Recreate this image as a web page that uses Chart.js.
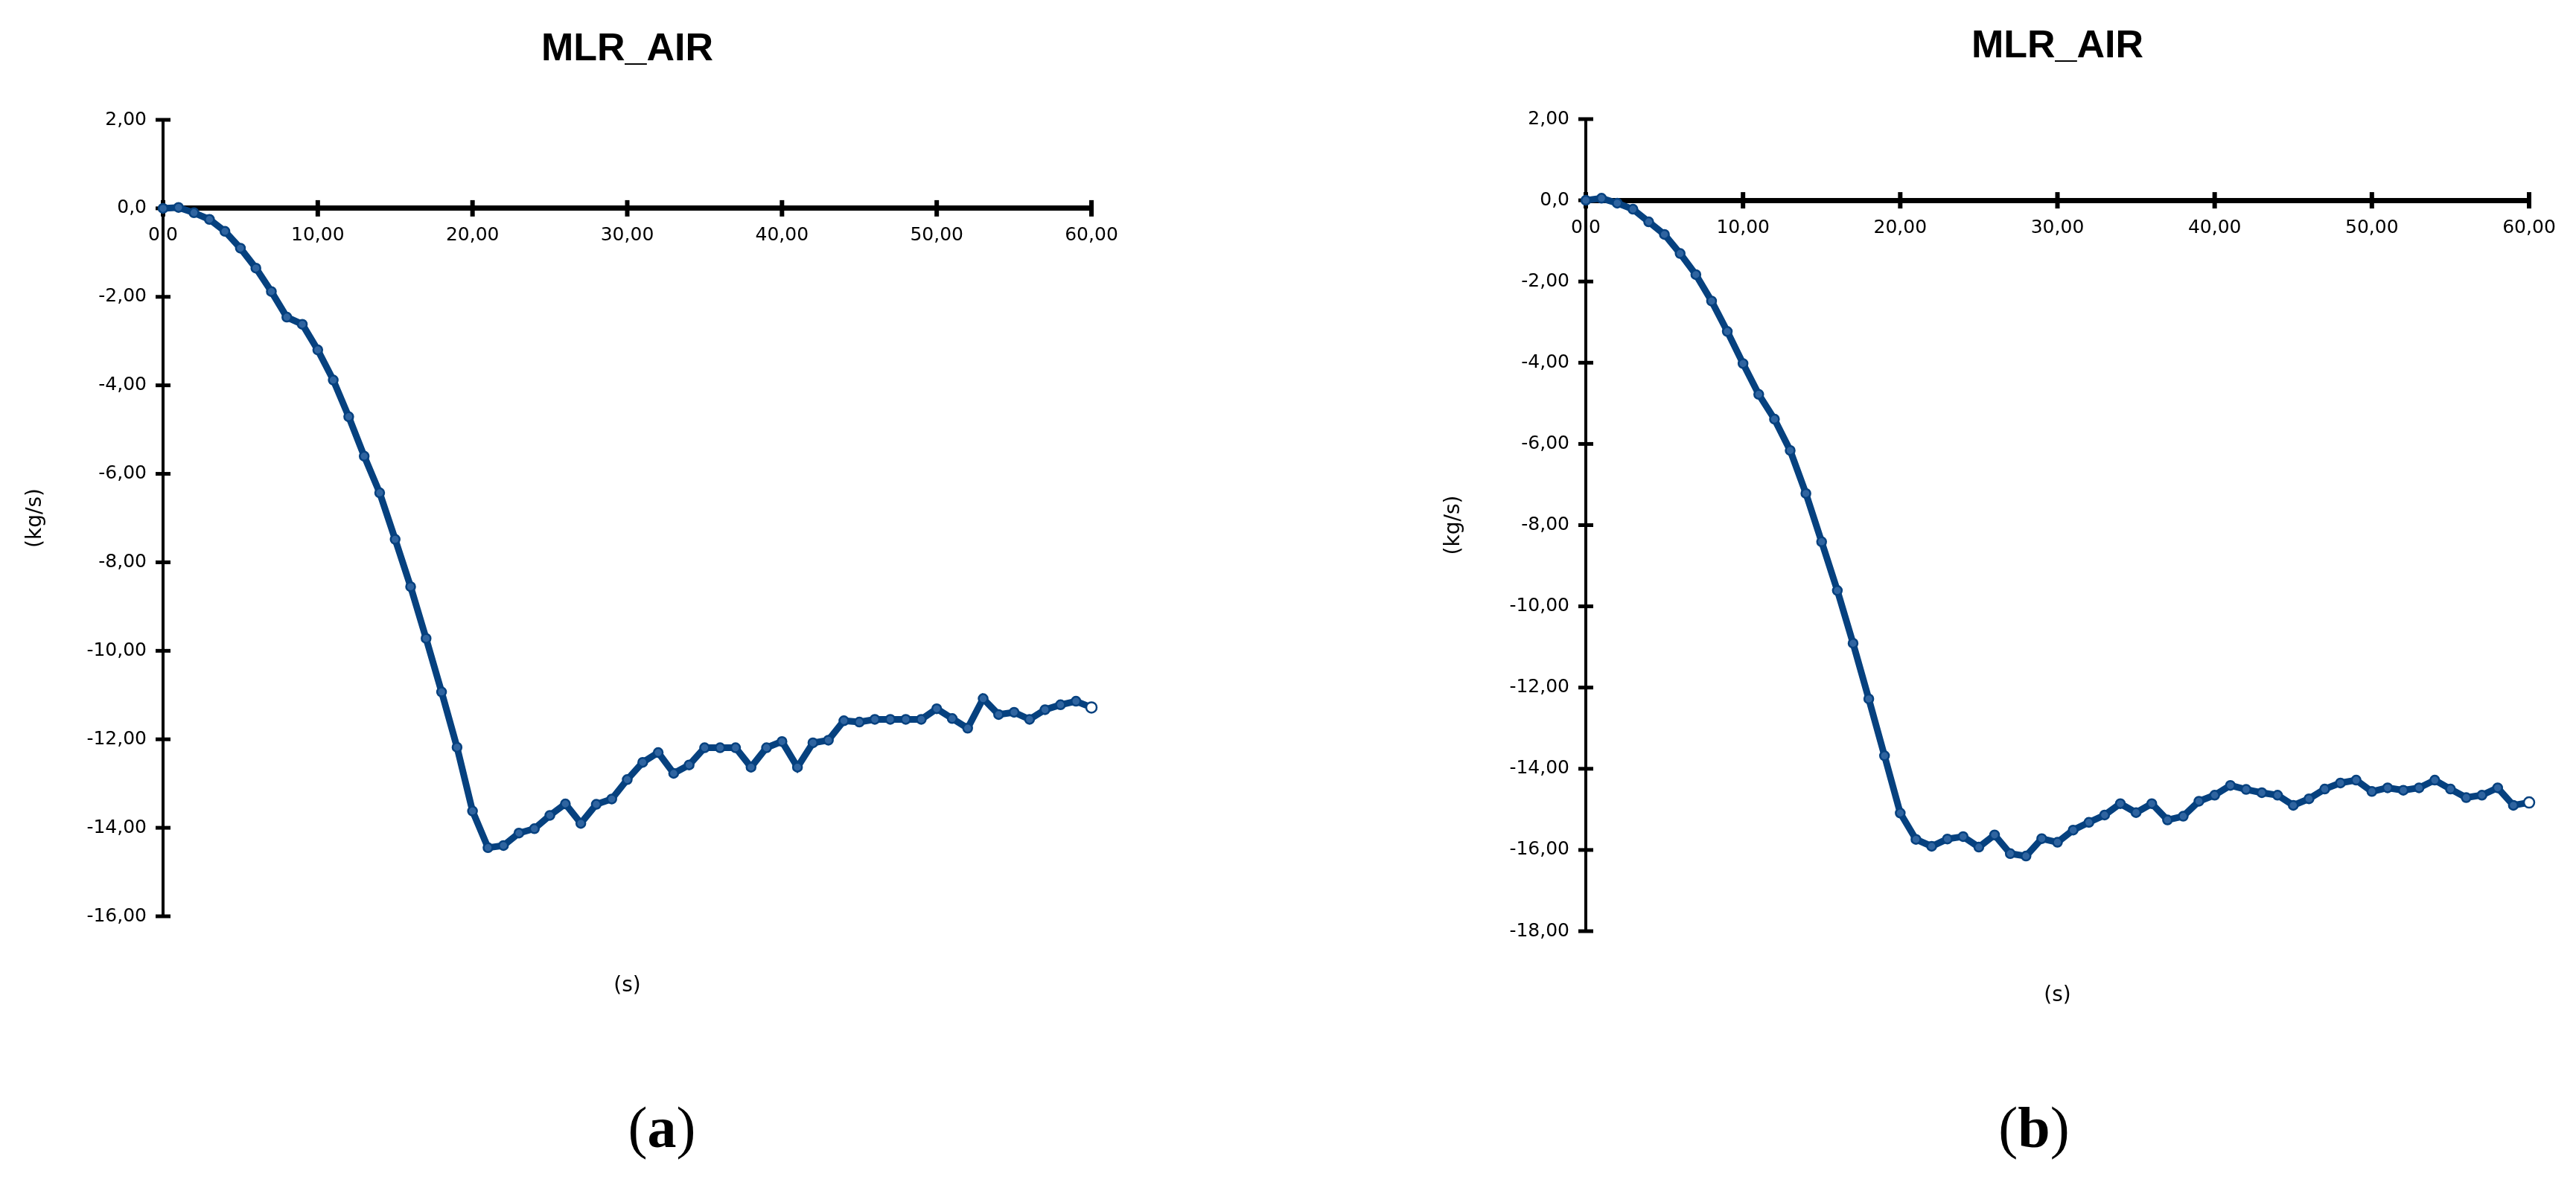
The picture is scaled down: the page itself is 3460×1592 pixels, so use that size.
<!DOCTYPE html>
<html>
<head>
<meta charset="utf-8">
<title>MLR_AIR</title>
<script src="https://cdn.jsdelivr.net/npm/chart.js@4.4.1/dist/chart.umd.min.js"></script>
<style>
  html, body { margin: 0; padding: 0; background: #fff; }
  #page { position: relative; width: 3460px; height: 1592px; overflow: hidden; background: #fff; }
  canvas { position: absolute; top: 0; }
  #chartA { left: 0; }
  #chartB { left: 1880px; }
  .panel { position: absolute; top: 1476px; width: 200px; text-align: center; color: #000;
           font-family: "Liberation Serif", serif; font-size: 78px; line-height: 78px; }
</style>
</head>
<body>
<div id="page">
  <canvas id="chartA" width="1526" height="1400"></canvas>
  <canvas id="chartB" width="1577" height="1420"></canvas>
  <div class="panel" style="left: 789px;">(<b>a</b>)</div>
  <div class="panel" style="left: 2632px;">(<b>b</b>)</div>
</div>
<script>
// time (s)
const seconds = [0, 1, 2, 3, 4, 5, 6, 7, 8, 9, 10, 11, 12, 13, 14, 15, 16, 17, 18, 19, 20,
  21, 22, 23, 24, 25, 26, 27, 28, 29, 30, 31, 32, 33, 34, 35, 36, 37, 38, 39, 40,
  41, 42, 43, 44, 45, 46, 47, 48, 49, 50, 51, 52, 53, 54, 55, 56, 57, 58, 59, 60];

// MLR_AIR (kg/s), panel a
const mlrAirA = [0.00, 0.02, -0.10, -0.25, -0.52, -0.90, -1.35, -1.88, -2.46, -2.62, -3.20,
  -3.88, -4.71, -5.60, -6.43, -7.48, -8.55, -9.72, -10.93, -12.18, -13.62,
  -14.45, -14.40, -14.12, -14.02, -13.72, -13.46, -13.90, -13.47, -13.35, -12.91,
  -12.52, -12.30, -12.77, -12.58, -12.19, -12.19, -12.19, -12.63, -12.19, -12.05,
  -12.63, -12.08, -12.02, -11.58, -11.61, -11.55, -11.55, -11.55, -11.55, -11.31,
  -11.53, -11.75, -11.08, -11.44, -11.39, -11.55, -11.33, -11.22, -11.14, -11.28];

// MLR_AIR (kg/s), panel b
const mlrAirB = [0.00, 0.05, -0.07, -0.22, -0.53, -0.84, -1.31, -1.83, -2.48, -3.23, -4.02,
  -4.78, -5.39, -6.16, -7.22, -8.41, -9.61, -10.91, -12.28, -13.68, -15.09,
  -15.74, -15.91, -15.73, -15.67, -15.93, -15.63, -16.09, -16.15, -15.72, -15.81,
  -15.51, -15.32, -15.14, -14.86, -15.08, -14.86, -15.26, -15.17, -14.80, -14.65,
  -14.41, -14.51, -14.59, -14.65, -14.90, -14.74, -14.50, -14.35, -14.28, -14.56,
  -14.47, -14.53, -14.47, -14.28, -14.50, -14.71, -14.65, -14.47, -14.90, -14.83];

const xTickValues = [0, 10, 20, 30, 40, 50, 60];
const xTickLabels = ['0,0', '10,00', '20,00', '30,00', '40,00', '50,00', '60,00'];

const yTickValuesA = [2, 0, -2, -4, -6, -8, -10, -12, -14, -16];
const yTickLabelsA = ['2,00', '0,0', '-2,00', '-4,00', '-6,00', '-8,00', '-10,00', '-12,00', '-14,00', '-16,00'];

const yTickValuesB = [2, 0, -2, -4, -6, -8, -10, -12, -14, -16, -18];
const yTickLabelsB = ['2,00', '0,0', '-2,00', '-4,00', '-6,00', '-8,00', '-10,00', '-12,00', '-14,00', '-16,00', '-18,00'];

const lineBlue = '#06417f';
const tickFont = { family: 'DejaVu Sans', size: 25 };
const labelFont = { family: 'DejaVu Sans', size: 28 };

// tick marks that cross the axis line, as in the original plot
const crossTicks = {
  id: 'crossTicks',
  beforeDatasetsDraw(chart) {
    const ctx = chart.ctx;
    const xs = chart.scales.x;
    const ys = chart.scales.y;
    const y0 = ys.getPixelForValue(0);
    const x0 = xs.getPixelForValue(0);
    ctx.save();
    ctx.strokeStyle = '#000';
    ctx.lineWidth = 6;
    for (const t of xs.ticks) {
      const px = xs.getPixelForValue(t.value);
      ctx.beginPath();
      ctx.moveTo(px, y0 - 11);
      ctx.lineTo(px, y0 + 11);
      ctx.stroke();
    }
    ctx.lineWidth = 5;
    for (const t of ys.ticks) {
      const py = ys.getPixelForValue(t.value);
      ctx.beginPath();
      ctx.moveTo(x0 - 10, py);
      ctx.lineTo(x0 + 10, py);
      ctx.stroke();
    }
    ctx.restore();
  }
};

function makeChart(id, values, yTickValues, yTickLabels, box) {
  const last = values.length - 1;
  const points = seconds.map((s, i) => ({ x: s, y: values[i] }));
  return new Chart(document.getElementById(id), {
    type: 'line',
    data: {
      datasets: [{
        data: points,
        borderColor: lineBlue,
        borderWidth: 9,
        tension: 0,
        clip: false,
        pointRadius: (c) => c.dataIndex === last ? 7 : 6,
        pointBackgroundColor: (c) => c.dataIndex === last ? '#ffffff' : '#2f64a0',
        pointBorderColor: lineBlue,
        pointBorderWidth: 2.5
      }]
    },
    options: {
      responsive: false,
      animation: false,
      events: [],
      layout: { padding: { left: 0, right: 60, top: 0, bottom: box.padBottom } },
      plugins: {
        legend: { display: false },
        tooltip: { enabled: false },
        title: {
          display: true,
          text: 'MLR_AIR',
          fullSize: false,
          color: '#000',
          font: { family: 'Liberation Sans', size: 52, weight: 'bold' },
          padding: { top: box.titleTop, bottom: box.titleBottom }
        },
        subtitle: {
          display: true,
          position: 'bottom',
          text: '(s)',
          fullSize: false,
          color: '#000',
          font: labelFont,
          padding: { top: box.sTop, bottom: 0 }
        }
      },
      scales: {
        x: {
          type: 'linear',
          min: 0,
          max: 60,
          position: { y: 0 },
          afterBuildTicks: (s) => { s.ticks = xTickValues.map(v => ({ value: v })); },
          ticks: {
            autoSkip: false,
            maxRotation: 0,
            color: '#000',
            font: tickFont,
            padding: 22,
            callback: (v) => xTickLabels[xTickValues.indexOf(v)]
          },
          grid: { drawOnChartArea: false, drawTicks: false },
          border: { color: '#000', width: 7 }
        },
        y: {
          type: 'linear',
          min: yTickValues[yTickValues.length - 1],
          max: yTickValues[0],
          position: 'left',
          afterBuildTicks: (s) => { s.ticks = yTickValues.map(v => ({ value: v })); },
          afterFit: (s) => { s.width = box.yWidth; },
          ticks: {
            autoSkip: false,
            color: '#000',
            font: tickFont,
            padding: 22,
            callback: (v) => yTickLabels[yTickValues.indexOf(v)]
          },
          grid: { drawOnChartArea: false, drawTicks: false },
          border: { color: '#000', width: 4 },
          title: {
            display: true,
            text: '(kg/s)',
            color: '#000',
            font: labelFont,
            padding: { top: box.yTitlePad, bottom: 0 }
          }
        }
      }
    },
    plugins: [crossTicks]
  });
}

makeChart('chartA', mlrAirA, yTickValuesA, yTickLabelsA,
  { yWidth: 219, titleTop: 35, titleBottom: 63.6, sTop: 77, padBottom: 58.4, yTitlePad: 31.2 });
makeChart('chartB', mlrAirB, yTickValuesB, yTickLabelsB,
  { yWidth: 250, titleTop: 31, titleBottom: 66.6, sTop: 70, padBottom: 65.4, yTitlePad: 56.2 });
</script>
</body>
</html>
